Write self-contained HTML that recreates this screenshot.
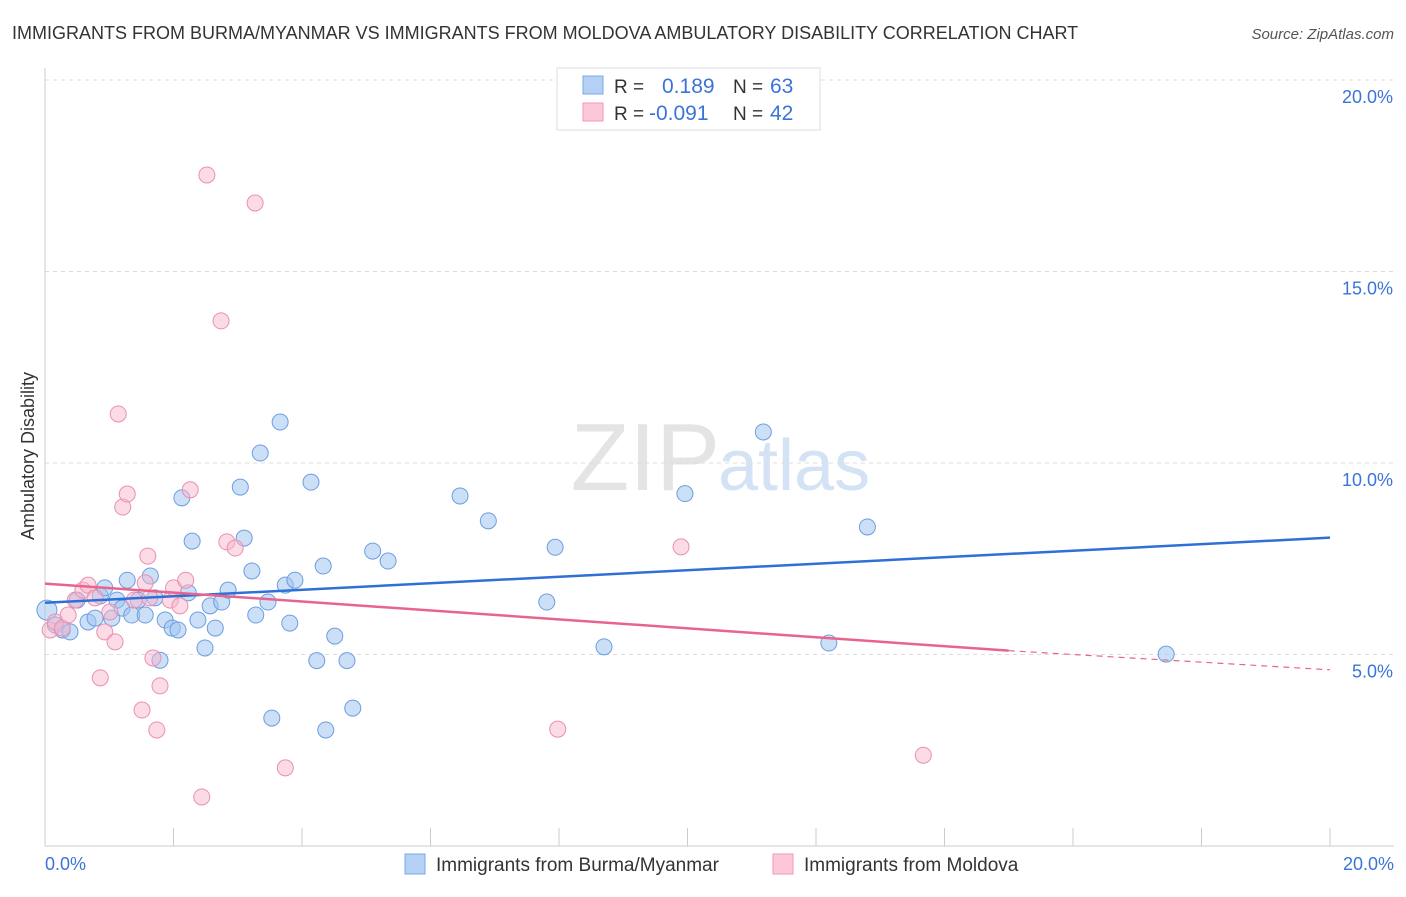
<!DOCTYPE html>
<html><head><meta charset="utf-8"><style>
body{margin:0;background:#fff;font-family:"Liberation Sans",sans-serif;}
svg text{font-family:"Liberation Sans",sans-serif;}
</style></head><body>
<svg id="chart" width="1406" height="892" xmlns="http://www.w3.org/2000/svg">
<text x="12" y="39" font-size="18" fill="#333">IMMIGRANTS FROM BURMA/MYANMAR VS IMMIGRANTS FROM MOLDOVA AMBULATORY DISABILITY CORRELATION CHART</text>
<text x="1394" y="39" font-size="15" fill="#555" font-style="italic" text-anchor="end">Source: ZipAtlas.com</text>
<text x="720" y="490" font-size="96" fill="#e4e4e4" font-family="Liberation Serif" text-anchor="end">ZIP</text>
<text x="718" y="490" font-size="72" fill="#d3e2f4">atlas</text>
<g id="grid"></g>
<line x1="45" y1="68" x2="45" y2="846" stroke="#ccc"/>
<line x1="45" y1="846" x2="1394" y2="846" stroke="#ccc"/>
<text transform="translate(34,456) rotate(-90)" font-size="18" fill="#333" text-anchor="middle">Ambulatory Disability</text>
<text x="45" y="870" font-size="18" fill="#3b74d8">0.0%</text>
<text x="1394" y="870" font-size="18" fill="#3b74d8" text-anchor="end">20.0%</text>
<g id="marks"></g>
<g>
<rect x="557" y="68" width="263" height="62" fill="#fff" stroke="#ddd"/>
<rect x="583" y="76" width="20" height="18" fill="#b5d0f5" stroke="#7aa7e6"/>
<rect x="583" y="103" width="20" height="18" fill="#fcc8d8" stroke="#ee9ab5"/>
<text x="614" y="93" font-size="19" fill="#333">R =</text><text x="662" y="93" font-size="21" fill="#3b74d8">0.189</text>
<text x="733" y="93" font-size="19" fill="#333">N =</text><text x="770" y="93" font-size="21" fill="#3b74d8">63</text>
<text x="614" y="120" font-size="19" fill="#333">R =</text><text x="649" y="120" font-size="21" fill="#3b74d8">-0.091</text>
<text x="733" y="120" font-size="19" fill="#333">N =</text><text x="770" y="120" font-size="21" fill="#3b74d8">42</text>
</g>
<g>
<rect x="405" y="854" width="20" height="20" fill="#b5d0f5" stroke="#7aa7e6"/>
<text x="436" y="871" font-size="19" fill="#333">Immigrants from Burma/Myanmar</text>
<rect x="773" y="854" width="20" height="20" fill="#fcc8d8" stroke="#ee9ab5"/>
<text x="804" y="871" font-size="19" fill="#333">Immigrants from Moldova</text>
</g>
</svg>
<script>
const yTicks=[5,10,15,20];
const blueX=[0.03,0.16,0.27,0.39,0.5,0.67,0.78,0.86,0.93,1.04,1.12,1.2,1.28,1.35,1.45,1.56,1.64,1.71,1.79,1.87,1.98,2.07,2.13,2.23,2.29,2.38,2.49,2.57,2.65,2.75,2.85,3.04,3.1,3.22,3.28,3.35,3.47,3.53,3.66,3.74,3.81,3.89,4.14,4.23,4.33,4.37,4.51,4.7,4.79,5.1,5.34,6.46,6.9,7.81,7.94,8.7,9.96,11.18,12.2,12.8,17.45];
const blueY=[6.16,5.77,5.64,5.59,6.42,5.85,5.95,6.53,6.74,5.95,6.42,6.21,6.94,6.03,6.42,6.03,7.05,6.48,4.85,5.9,5.69,5.64,9.09,6.61,7.96,5.9,5.17,6.27,5.69,6.37,6.68,9.37,8.04,7.18,6.03,10.26,6.37,3.34,11.07,6.81,5.82,6.94,9.5,4.84,7.31,3.03,5.48,4.84,3.6,7.7,7.44,9.14,8.49,6.37,7.8,5.2,9.2,10.81,5.3,8.33,5.01];
const pinkX=[0.08,0.16,0.27,0.36,0.47,0.59,0.67,0.78,0.86,0.93,1.01,1.09,1.14,1.21,1.28,1.39,1.51,1.56,1.6,1.63,1.68,1.74,1.79,1.95,2.0,2.1,2.19,2.26,2.44,2.52,2.74,2.83,2.96,3.27,3.74,7.98,9.9,13.67];
const pinkY=[5.64,5.85,5.69,6.03,6.42,6.68,6.81,6.48,4.39,5.59,6.11,5.33,11.28,8.85,9.19,6.42,3.55,6.87,7.57,6.48,4.91,3.03,4.18,6.42,6.74,6.27,6.94,9.3,1.28,17.52,13.71,7.94,7.78,16.79,2.04,3.05,7.81,2.37];
const blueFit=[6.35,8.05], pinkFit=[6.85,5.1,4.6];
const sx=v=>45+v/20*1285, sy=v=>846-v*38.3;
const NS="http://www.w3.org/2000/svg";
const grid=document.getElementById('grid'), marks=document.getElementById('marks');
function mk(tag,attrs,parent){const e=document.createElementNS(NS,tag);for(const k in attrs)e.setAttribute(k,attrs[k]);parent.appendChild(e);return e;}
yTicks.forEach(t=>{
 const l=mk('line',{x1:45,x2:1394,y1:sy(t),y2:sy(t),stroke:'#ddd','stroke-dasharray':'4,4'},grid);
 
 
 const tx=mk('text',{x:1393,y:sy(t)+23,'font-size':18,fill:'#3b74d8','text-anchor':'end'},grid);
 tx.textContent=t.toFixed(1)+'%';
 
 
});
for(let i=1;i<=10;i++){
 const l=mk('line',{x1:sx(i*2),x2:sx(i*2),y1:828,y2:846,stroke:'#ccc'},grid);
 
 
}
blueX.forEach((x,i)=>{
 const c=mk('circle',{cx:sx(x),cy:sy(blueY[i]),r:i==0?10:8,fill:'rgba(160,196,240,0.55)',stroke:'#6d9ee0','stroke-width':1},marks);
 
 
});
pinkX.forEach((x,i)=>{
 const c=mk('circle',{cx:sx(x),cy:sy(pinkY[i]),r:8,fill:'rgba(248,184,205,0.5)',stroke:'#ec8fae','stroke-width':1},marks);
 
 
});
const bl=mk('line',{x1:sx(0),y1:sy(blueFit[0]),x2:sx(20),y2:sy(blueFit[1]),stroke:'#2f6fd6','stroke-width':2.5},marks);


const pl=mk('line',{x1:sx(0),y1:sy(pinkFit[0]),x2:sx(15),y2:sy(pinkFit[1]),stroke:'#e8648f','stroke-width':2.5},marks);


const pd=mk('line',{x1:sx(15),y1:sy(pinkFit[1]),x2:sx(20),y2:sy(pinkFit[2]),stroke:'#e8648f','stroke-width':1.2,'stroke-dasharray':'6,5'},marks);


</script>
</body></html>
